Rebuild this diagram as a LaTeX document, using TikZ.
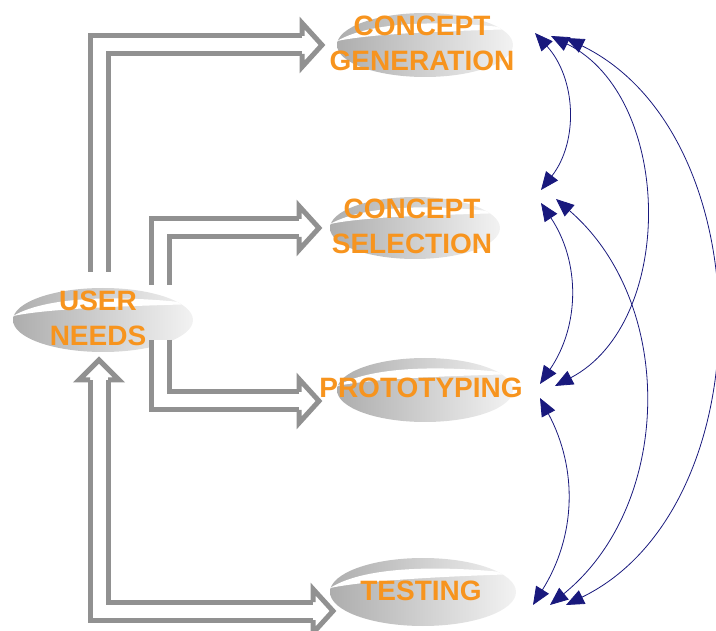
\documentclass[tikz,border=0pt]{standalone}
\usepackage{fontspec}
\setmainfont{Liberation Sans}
\usetikzlibrary{arrows.meta,shapes.geometric}
\definecolor{stageorange}{RGB}{247,148,30}
\definecolor{arrowgray}{RGB}{145,145,145}
\definecolor{linkblue}{RGB}{25,25,125}

\begin{document}
\begin{tikzpicture}[x=1pt,y=1pt,
  swoosh/.style={ellipse, inner sep=0pt, left color=black!32, right color=black!5,
    path picture={\fill[white] ([shift={(0,4)}]path picture bounding box.west)
      .. controls ([shift={(38,-6)}]path picture bounding box.north west) and ([shift={(30,-8)}]path picture bounding box.north)
      .. ([shift={(4,-16)}]path picture bounding box.north east)
      .. controls ([shift={(30,-18)}]path picture bounding box.north) and ([shift={(38,12)}]path picture bounding box.west)
      .. ([shift={(0,4)}]path picture bounding box.west);}},
  stage/.style={text=stageorange, font=\bfseries\fontsize{28}{35}\selectfont, align=center, inner sep=0pt},
  shaft/.style={draw=arrowgray, line width=5pt, double=white, double distance=13pt, line join=miter},
  hollowhead/.style={draw=arrowgray, fill=white, line width=5pt, line cap=square, line join=miter},
  link/.style={draw=linkblue, line width=0.8pt, {Triangle[length=18pt,width=15pt]}-{Triangle[length=18pt,width=15pt]}}]
\useasboundingbox (0,0) rectangle (716,-631);

\node[swoosh, minimum width=176pt, minimum height=64pt] (cg) at (425,-45) {};
\node[swoosh, minimum width=170pt, minimum height=62pt] (cs) at (415,-228) {};
\node[swoosh, minimum width=176pt, minimum height=64pt] (pr) at (425,-390) {};
\node[swoosh, minimum width=186pt, minimum height=68pt] (te) at (423,-592) {};
\node[swoosh, minimum width=180pt, minimum height=64pt] (un) at (103,-320) {};

\coordinate (un-up) at (99,-272);
\coordinate (un-r1) at (160.5,-285);
\coordinate (un-r2) at (160.5,-340);
\coordinate (un-dn) at (99,-380);
\coordinate (cg-in) at (302,-45);
\coordinate (cs-in) at (299,-228);
\coordinate (pr-in) at (299,-401);
\coordinate (te-in) at (313,-611);

\draw[shaft] (un-up) |- (cg-in);
\draw[hollowhead] ([yshift=9]cg-in) -- ++(0,13) -- ++(20,-22) -- ++(-20,-22) -- ++(0,13);
\draw[shaft] (un-r1) |- (cs-in);
\draw[hollowhead] ([yshift=9]cs-in) -- ++(0,13) -- ++(20,-22) -- ++(-20,-22) -- ++(0,13);
\draw[shaft] (un-r2) |- (pr-in);
\draw[hollowhead] ([yshift=9]pr-in) -- ++(0,13) -- ++(20,-22) -- ++(-20,-22) -- ++(0,13);
\draw[shaft] (un-dn) |- (te-in);
\draw[hollowhead] ([yshift=9]te-in) -- ++(0,13) -- ++(20,-22) -- ++(-20,-22) -- ++(0,13);
\draw[hollowhead] ([xshift=-9]un-dn) -- ++(-11,0) -- ++(20,20) -- ++(20,-20) -- ++(-11,0);

\node[stage] (cgtext) at (422,-43) {CONCEPT\\GENERATION};
\node[stage] (cstext) at (412,-226) {CONCEPT\\SELECTION};
\node[stage] (prtext) at (421,-388) {PROTOTYPING};
\node[stage] (tetext) at (421,-591) {TESTING};
\node[stage] (untext) at (98,-318) {USER\\NEEDS};

\coordinate (cg-a) at (535,-33);
\coordinate (cg-b) at (551,-36);
\coordinate (cg-c) at (566,-38);
\coordinate (cs-a) at (541,-190);
\coordinate (cs-b) at (556,-199);
\coordinate (cs-c) at (541,-203);
\coordinate (pr-a) at (555,-386);
\coordinate (pr-b) at (540,-384);
\coordinate (pr-c) at (540,-398);
\coordinate (te-a) at (533,-605);
\coordinate (te-b) at (550,-605);
\coordinate (te-c) at (566,-605);

\draw[link] (cg-a) to[bend left=40] (cs-a);
\draw[link] (cg-b) to[bend left=63] (pr-a);
\draw[link] (cg-c) to[bend left=64] (te-c);
\draw[link] (cs-b) to[bend left=50] (te-b);
\draw[link] (cs-c) to[bend left=34] (pr-b);
\draw[link] (pr-c) to[bend left=30] (te-a);

\end{tikzpicture}
\end{document}
